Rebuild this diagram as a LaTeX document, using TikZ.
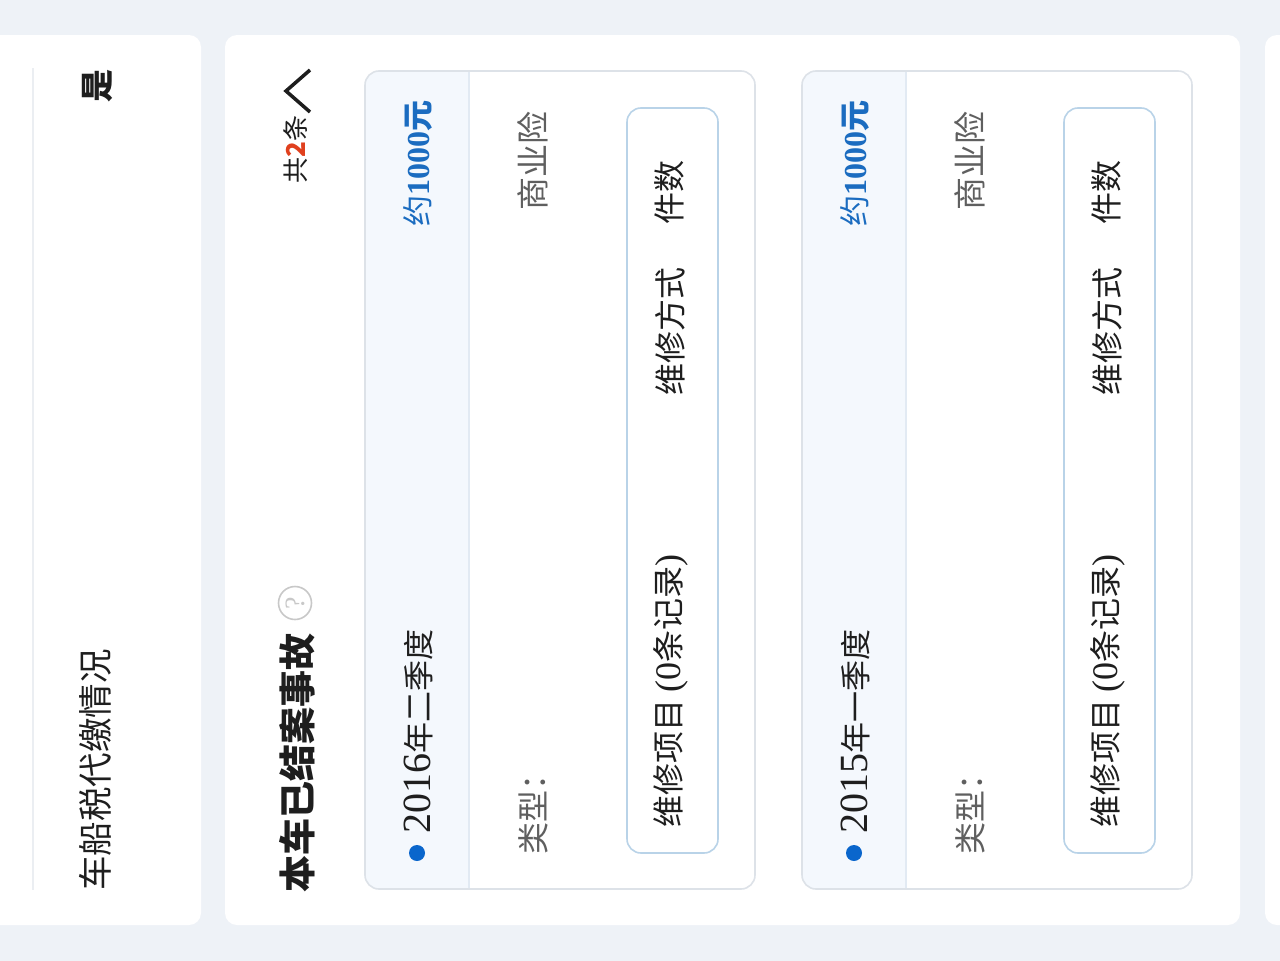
\documentclass[tikz,border=0pt]{standalone}
\usepackage{fontspec}
\setmainfont{Noto Sans CJK SC}
\newfontfamily\numfont{Liberation Serif}
\newcommand{\serifnum}[2]{{\fontspec{Liberation Serif}\fontsize{#1}{#1}\selectfont #2}}
\definecolor{bgc}{HTML}{EEF2F7}
\definecolor{recline}{HTML}{DDE2E8}
\definecolor{hdr}{HTML}{F4F8FD}
\definecolor{sepc}{HTML}{E2EAF3}
\definecolor{innerline}{HTML}{B9D3E8}
\definecolor{bluetxt}{HTML}{1B6CC0}
\definecolor{dotc}{HTML}{0A66CC}
\definecolor{graytxt}{HTML}{5F5F5F}
\definecolor{blacktxt}{HTML}{1E1E1E}
\definecolor{redtxt}{HTML}{E0401E}
\definecolor{divc}{HTML}{EBEEF2}
\definecolor{helpc}{HTML}{C8C8C8}
\begin{document}
\begin{tikzpicture}[x=1pt,y=-1pt,
  card/.style={fill=white, rounded corners=12pt},
  recbox/.style={draw=recline, line width=1.6pt, rounded corners=14pt},
  innerbox/.style={draw=innerline, line width=1.6pt, rounded corners=14pt},
  vt/.style={rotate=90, inner sep=0pt, text=blacktxt, font=\fontsize{32}{36}\selectfont},
  vgray/.style={vt, text=graytxt},
  dotnode/.style={circle, fill=dotc, minimum size=16pt, inner sep=0pt}]
\useasboundingbox (0,0) rectangle (1280,961);
\fill[bgc] (0,0) rectangle (1280,961);
% cards
\fill[card] (-30,35) rectangle (201,925);
\fill[card] (225,35) rectangle (1240,925);
\fill[card] (1265,35) rectangle (1320,925);
% card 1
\coordinate (d1) at (33,68);
\coordinate (d2) at (33,890);
\draw[divc, line width=2pt] (d1) -- (d2);
\node[vt, anchor=west, font=\fontsize{34.5}{38}\selectfont] (tax) at (95,891) {车船税代缴情况};
\node[vt, font=\bfseries\fontsize{33}{36}\selectfont] (yes) at (97,86) {是};
% card 2 header
\node[vt, anchor=west, font=\bfseries\fontsize{37}{40}\selectfont] (title) at (297,893) {本车已结案事故};
\node[circle, draw=helpc, line width=1.6pt, minimum size=33pt, inner sep=0pt, rotate=90,
      text=helpc] (help) at (295,603) {\serifnum{28}{?}};
\node[vt, anchor=east, font=\fontsize{26}{30}\selectfont] (count) at (296,115) {共{\color{redtxt}\bfseries 2}条};
\coordinate (c1) at (310,70);
\coordinate (c2) at (286,91);
\coordinate (c3) at (310,112);
\draw[blacktxt, line width=3.5pt] (c1) -- (c2) -- (c3);
% records
\foreach \i/\dx/\yr/\q in {1/0/2016/二, 2/437/2015/一}{
\begin{scope}[xshift=\dx pt]
  \begin{scope}
    \clip[rounded corners=14pt] (365,71) rectangle (755,889);
    \fill[white] (365,71) rectangle (755,889);
    \fill[hdr] (365,71) rectangle (469,889);
  \end{scope}
  \coordinate (s\i a) at (469,71);
  \coordinate (s\i b) at (469,889);
  \draw[sepc, line width=1.6pt] (s\i a) -- (s\i b);
  \draw[recbox] (365,71) rectangle (755,889);
  \node[dotnode] (dot\i) at (417,853) {};
  \node[vt, anchor=west, font=\fontsize{31}{36}\selectfont] (when\i) at (418,834) {\serifnum{40}{\yr}年\q 季度};
  \node[vt, anchor=east, text=bluetxt, font=\fontsize{31}{34}\selectfont] (amt\i) at (418,100) {约\serifnum{32}{\bfseries 1000}\textbf{元}};
  \node[vgray, anchor=west] (typel\i) at (533,855) {类型：};
  \node[vgray, anchor=east, font=\fontsize{33}{36}\selectfont] (typev\i) at (533,111) {商业险};
  \draw[innerbox] (627,108) rectangle (718,853);
  \node[vt, anchor=west] (items\i) at (671,828) {维修项目 \serifnum{36}{(0}条记录\serifnum{36}{)}};
  \node[vt] (mode\i) at (670,331) {维修方式};
  \node[vt, anchor=east] (qty\i) at (669,160) {件数};
\end{scope}
}
\end{tikzpicture}
\end{document}
